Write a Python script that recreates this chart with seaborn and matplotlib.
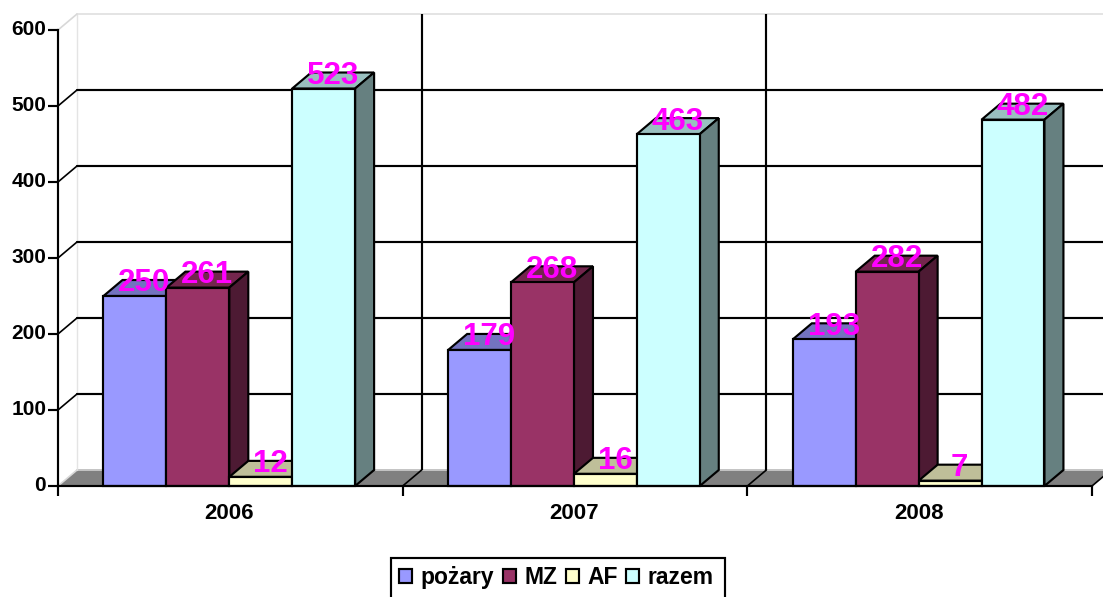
import matplotlib
matplotlib.use("Agg")
import matplotlib.pyplot as plt
import matplotlib.transforms as mtrans
import pandas as pd
import seaborn as sns
from matplotlib.patches import Polygon, Rectangle

years = ["2006", "2007", "2008"]
series_names = ["pożary", "MZ", "AF", "razem"]
pozary = [250, 179, 193]
mz = [261, 268, 282]
af = [12, 16, 7]
razem = [523, 463, 482]
y_ticks = [0, 100, 200, 300, 400, 500, 600]
colors = ["#9999FF", "#993366", "#FFFFCC", "#CCFFFF"]

W, H = 1103, 597
L, R, T, B = 58, 1092, 30, 486
LW = 1.55
sns.set_theme(style="white")
plt.rcParams["font.family"] = ["Liberation Sans", "DejaVu Sans"]
plt.rcParams["font.weight"] = "bold"

df = pd.DataFrame({
    "year": years * 4,
    "series": [s for s in series_names for _ in years],
    "value": pozary + mz + af + razem,
})

fig = plt.figure(figsize=(W / 100, H / 100), dpi=100, facecolor="white")
ax = fig.add_axes([L / W, 1 - B / H, (R - L) / W, (B - T) / H])
ax.patch.set_alpha(0)
sns.barplot(data=df, x="year", y="value", hue="series", hue_order=series_names,
            palette=colors, saturation=1, width=0.73, gap=0, dodge=True,
            edgecolor="black", linewidth=LW, errorbar=None, ax=ax)
handles, labels = ax.get_legend_handles_labels()
ax.get_legend().remove()

x0, x1 = -0.497, 2.503
ax.set_xlim(x0, x1)
ax.set_ylim(0, 600)
dx = 19 / ((R - L) / 3)          # 3-D depth expressed in axis units
dy = 16 / ((B - T) / 600)


def shade(hexcolor, f):
    rgb = matplotlib.colors.to_rgb(hexcolor)
    return tuple(c * f for c in rgb)


# Back wall, left wall and floor
floor = Polygon([(x0, 0), (x0 + dx, dy), (x1 + dx, dy), (x1, 0)], closed=True,
                facecolor="#808080", edgecolor="none", zorder=0.5, clip_on=False)
ax.add_patch(floor)
ax.plot([x0 + dx, x1 + dx], [dy, dy], color="#C4C4C4", lw=1.4, zorder=0.6, clip_on=False)
ax.plot([x0 + dx, x0 + dx], [dy, 600 + dy], color="#E4E4E4", lw=1, zorder=0.6, clip_on=False)
ax.plot([x0 + dx, x1 + dx], [600 + dy, 600 + dy], color="#E4E4E4", lw=1.4, zorder=0.6, clip_on=False)
for v in y_ticks:
    edge = "#D8D8D8" if v in (y_ticks[0], y_ticks[-1]) else "black"
    ax.plot([x0, x0 + dx], [v, v + dy], color=edge, lw=1.2, zorder=0.7, clip_on=False)
    if v not in (y_ticks[0], y_ticks[-1]):
        ax.plot([x0 + dx, x1 + dx], [v + dy, v + dy], color="black", lw=LW, zorder=0.7, clip_on=False)
for i in range(1, len(years) + 1):
    ax.plot([x0 + i, x0 + i + dx], [0, dy], color="black", lw=1.2, zorder=0.7, clip_on=False)
    if i < len(years):
        ax.plot([x0 + i + dx] * 2, [dy, 600 + dy], color="black", lw=LW, zorder=0.7,
                clip_on=False, solid_capstyle="butt")

# 3-D faces built from the bars the library drew
z = 2.0
for gi in range(len(years)):
    for si, container in enumerate(ax.containers):
        bar = container[gi]
        xa, w, h = bar.get_x(), bar.get_width(), bar.get_height()
        xb = xa + w
        col = colors[si]
        top = Polygon([(xa, h), (xa + dx, h + dy), (xb + dx, h + dy), (xb, h)], closed=True,
                      facecolor=shade(col, 0.75), edgecolor="black", lw=LW, zorder=z, clip_on=False)
        side = Polygon([(xb, 0), (xb + dx, dy), (xb + dx, h + dy), (xb, h)], closed=True,
                       facecolor=shade(col, 0.5), edgecolor="black", lw=LW, zorder=z + 0.1, clip_on=False)
        ax.add_patch(top)
        ax.add_patch(side)
        bar.set_zorder(z + 0.2)
        bar.set_clip_on(False)
        ax.text(xa + w / 2 + dx / 2, h + dy, f"{h:.0f}", color="#FF00FF", fontsize=22.5,
                fontweight="bold", ha="center", va="center_baseline", zorder=100, clip_on=False)
        z += 1

# Axes
for s in ("top", "right"):
    ax.spines[s].set_visible(False)
for s in ("left", "bottom"):
    ax.spines[s].set_color("black")
    ax.spines[s].set_linewidth(LW)
    ax.spines[s].set_zorder(90)
ax.set_xlabel("")
ax.set_ylabel("")
ax.set_yticks(y_ticks)
ax.set_yticklabels([str(v) for v in y_ticks])
ax.set_xticks(range(len(years)))
ax.set_xticklabels(years)
ax.set_xticks([x0 + i for i in range(len(years) + 1)], minor=True)
ax.tick_params(axis="y", which="major", left=True, length=7, width=LW, color="black",
               labelsize=15, pad=1.5, labelcolor="black")
ax.tick_params(axis="x", which="major", bottom=False, length=0, labelsize=16, pad=12.5, labelcolor="black")
ax.tick_params(axis="x", which="minor", bottom=True, length=7, width=LW, color="black")
lift = mtrans.ScaledTranslation(0, 2.5 / 100, fig.dpi_scale_trans)
for lab in ax.get_yticklabels():
    lab.set_transform(lab.get_transform() + lift)

fig.add_artist(Rectangle((391 / W, -0.02), (725 - 391) / W, 1 - 558 / H + 0.02,
                         transform=fig.transFigure, facecolor="white", edgecolor="black",
                         lw=LW, zorder=4))
leg = fig.legend(handles, labels, loc="upper left", bbox_to_anchor=(399 / W, 1 - 566 / H),
                 bbox_transform=fig.transFigure, ncol=4, frameon=False, fontsize=16.5,
                 handlelength=0.58, handleheight=0.58, handletextpad=0.36, columnspacing=0.37,
                 borderpad=0, borderaxespad=0)
leg.set_zorder(5)
for t in leg.get_texts():
    t.set_fontweight("bold")
    t.set_color("black")

fig.savefig("out.png", dpi=100)
